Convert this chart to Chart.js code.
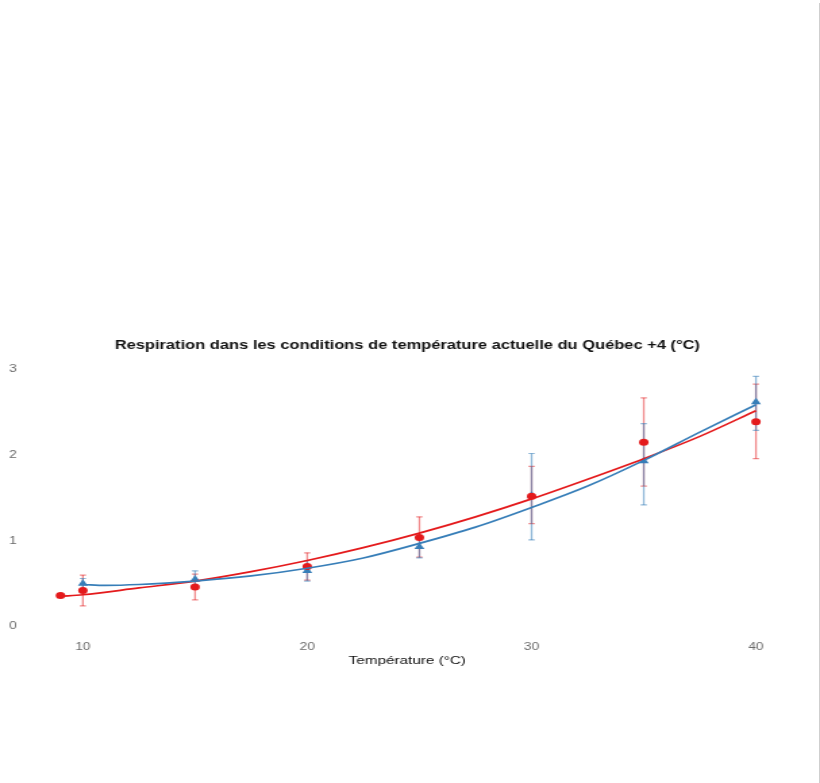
<!DOCTYPE html>
<html lang="fr">
<head>
<meta charset="utf-8">
<title>Respiration Québec +4</title>
<script src="https://cdn.jsdelivr.net/npm/chart.js@4.4.1/dist/chart.umd.min.js"></script>
<style>
  html, body { margin: 0; padding: 0; background: #fff; }
  #wrap { position: relative; width: 820px; height: 783px; overflow: hidden; }
  /* le graphique est rendu étroit puis étiré en largeur */
  #respChart { position: absolute; left: 0; top: 0; transform: scaleX(1.3509); transform-origin: 0 0; }
  #edge { position: absolute; left: 819px; top: 3px; width: 1px; height: 780px; background: #cfcfcf; }
</style>
</head>
<body>
<div id="wrap">
  <canvas id="respChart" width="607" height="783"></canvas>
  <div id="edge"></div>
</div>
<script>
// mesures (moyenne et barres d'erreur)
var tempRed = [9, 10, 15, 20, 25, 30, 35, 40];
var respRed = [0.36, 0.42, 0.46, 0.70, 1.04, 1.52, 2.15, 2.39];
var lowRed = [null, 0.24, 0.31, 0.54, 0.81, 1.20, 1.64, 1.96];
var highRed = [null, 0.60, 0.61, 0.86, 1.28, 1.87, 2.67, 2.83];

var tempBlue = [10, 15, 20, 25, 30, 35, 40];
var respBlue = [0.50, 0.55, 0.65, 0.93, 1.53, 1.93, 2.62];
var lowBlue = [0.44, 0.45, 0.53, 0.80, 1.01, 1.42, 2.29];
var highBlue = [0.56, 0.65, 0.77, 1.06, 2.02, 2.37, 2.92];

// courbes ajustées
var fitTempRed = [9, 10, 12.5, 15, 17.5, 20, 22.5, 25, 27.5, 30, 32.5, 35, 37.5, 40];
var fitRed = [0.35, 0.37, 0.45, 0.53, 0.64, 0.77, 0.92, 1.09, 1.28, 1.49, 1.72, 1.96, 2.22, 2.52];
var fitTempBlue = [10, 11, 12.5, 15, 17.5, 20, 22.5, 25, 27.5, 30, 32.5, 35, 37.5, 40];
var fitBlue = [0.49, 0.48, 0.49, 0.53, 0.59, 0.68, 0.80, 0.97, 1.16, 1.39, 1.64, 1.94, 2.27, 2.59];

var xTicks = [10, 20, 30, 40];
var yTicks = [0, 1, 2, 3];

var RED = '#e41a1c';
var BLUE = '#377eb8';
var FONT = 'Liberation Sans, Arial, sans-serif';

function pairs(xs, ys) {
    return xs.map(function(x, i) { return {x: x, y: ys[i]}; });
}

// barres d'erreur dessinées avec les échelles du graphique
var errorBars = {
    id: 'errorBars',
    beforeDatasetsDraw: function(chart) {
        var ctx = chart.ctx;
        var xs = chart.scales.x, ys = chart.scales.y;
        var sets = [
            {t: tempRed, lo: lowRed, hi: highRed, color: 'rgba(228,26,28,0.5)'},
            {t: tempBlue, lo: lowBlue, hi: highBlue, color: 'rgba(55,126,184,0.55)'}
        ];
        ctx.save();
        sets.forEach(function(s) {
            ctx.strokeStyle = s.color;
            s.t.forEach(function(t, i) {
                if (s.lo[i] === null) return;
                var px = xs.getPixelForValue(t);
                var y1 = ys.getPixelForValue(s.lo[i]);
                var y2 = ys.getPixelForValue(s.hi[i]);
                ctx.lineWidth = 1.3;
                ctx.beginPath();
                ctx.moveTo(px, y1); ctx.lineTo(px, y2);
                ctx.stroke();
                ctx.lineWidth = 1.2;
                ctx.beginPath();
                ctx.moveTo(px - 2.3, y1); ctx.lineTo(px + 2.3, y1);
                ctx.moveTo(px - 2.3, y2); ctx.lineTo(px + 2.3, y2);
                ctx.stroke();
            });
        });
        ctx.restore();
    }
};

// centre le titre sur la zone de tracé plutôt que sur tout le canevas
var centerTitle = {
    id: 'centerTitle',
    afterLayout: function(chart) {
        var tb = chart.titleBlock;
        if (!tb) return;
        var mid = (chart.chartArea.left + chart.chartArea.right) / 2;
        var half = (tb.right - tb.left) / 2;
        tb.left = mid - half;
        tb.right = mid + half;
    }
};

var ctx = document.getElementById('respChart').getContext('2d');
var chart = new Chart(ctx, {
    type: 'scatter',
    data: {
        datasets: [{
            type: 'line',
            data: pairs(fitTempBlue, fitBlue),
            borderColor: BLUE,
            borderWidth: 1.7,
            pointRadius: 0,
            cubicInterpolationMode: 'monotone',
            fill: false
        }, {
            type: 'line',
            data: pairs(fitTempRed, fitRed),
            borderColor: RED,
            borderWidth: 1.7,
            pointRadius: 0,
            cubicInterpolationMode: 'monotone',
            fill: false
        }, {
            data: pairs(tempRed, respRed),
            backgroundColor: RED,
            borderColor: RED,
            pointStyle: 'circle',
            pointRadius: 3.5,
            borderWidth: 0
        }, {
            data: pairs(tempBlue, respBlue),
            backgroundColor: BLUE,
            borderColor: BLUE,
            pointStyle: 'triangle',
            pointRadius: 4.3,
            borderWidth: 0
        }]
    },
    options: {
        responsive: false,
        animation: false,
        devicePixelRatio: 1,
        layout: { padding: { top: 332, left: 4, right: 26, bottom: 103 } },
        plugins: {
            legend: { display: false },
            tooltip: { enabled: false },
            title: {
                display: true,
                text: 'Respiration dans les conditions de température actuelle du Québec +4 (°C)',
                color: '#111',
                font: { family: FONT, size: 12.2, weight: 'bold', lineHeight: 1.2 },
                padding: { top: 6.5, bottom: 7.9 }
            }
        },
        scales: {
            x: {
                type: 'linear',
                min: 7.63,
                max: 41.29,
                grid: { display: false, drawTicks: false },
                border: { display: false },
                afterBuildTicks: function(scale) {
                    scale.ticks = xTicks.map(function(v) { return {value: v}; });
                },
                afterFit: function(scale) { scale.height = 45; },
                ticks: {
                    color: '#6b6b6b',
                    padding: 6,
                    maxRotation: 0,
                    font: { family: FONT, size: 10.2 }
                },
                title: {
                    display: true,
                    text: 'Température (°C)',
                    color: '#111',
                    font: { family: FONT, size: 11.3, lineHeight: 1.2 },
                    padding: { top: 0, bottom: 12.8 }
                }
            },
            y: {
                type: 'linear',
                min: -0.1,
                max: 3.1,
                grid: { display: false, drawTicks: false },
                border: { display: false },
                afterBuildTicks: function(scale) {
                    scale.ticks = yTicks.map(function(v) { return {value: v}; });
                },
                afterFit: function(scale) { scale.width = 18; },
                ticks: {
                    color: '#6b6b6b',
                    padding: 9.5,
                    font: { family: FONT, size: 10.2 }
                }
            }
        }
    },
    plugins: [errorBars, centerTitle]
});
</script>
</body>
</html>
